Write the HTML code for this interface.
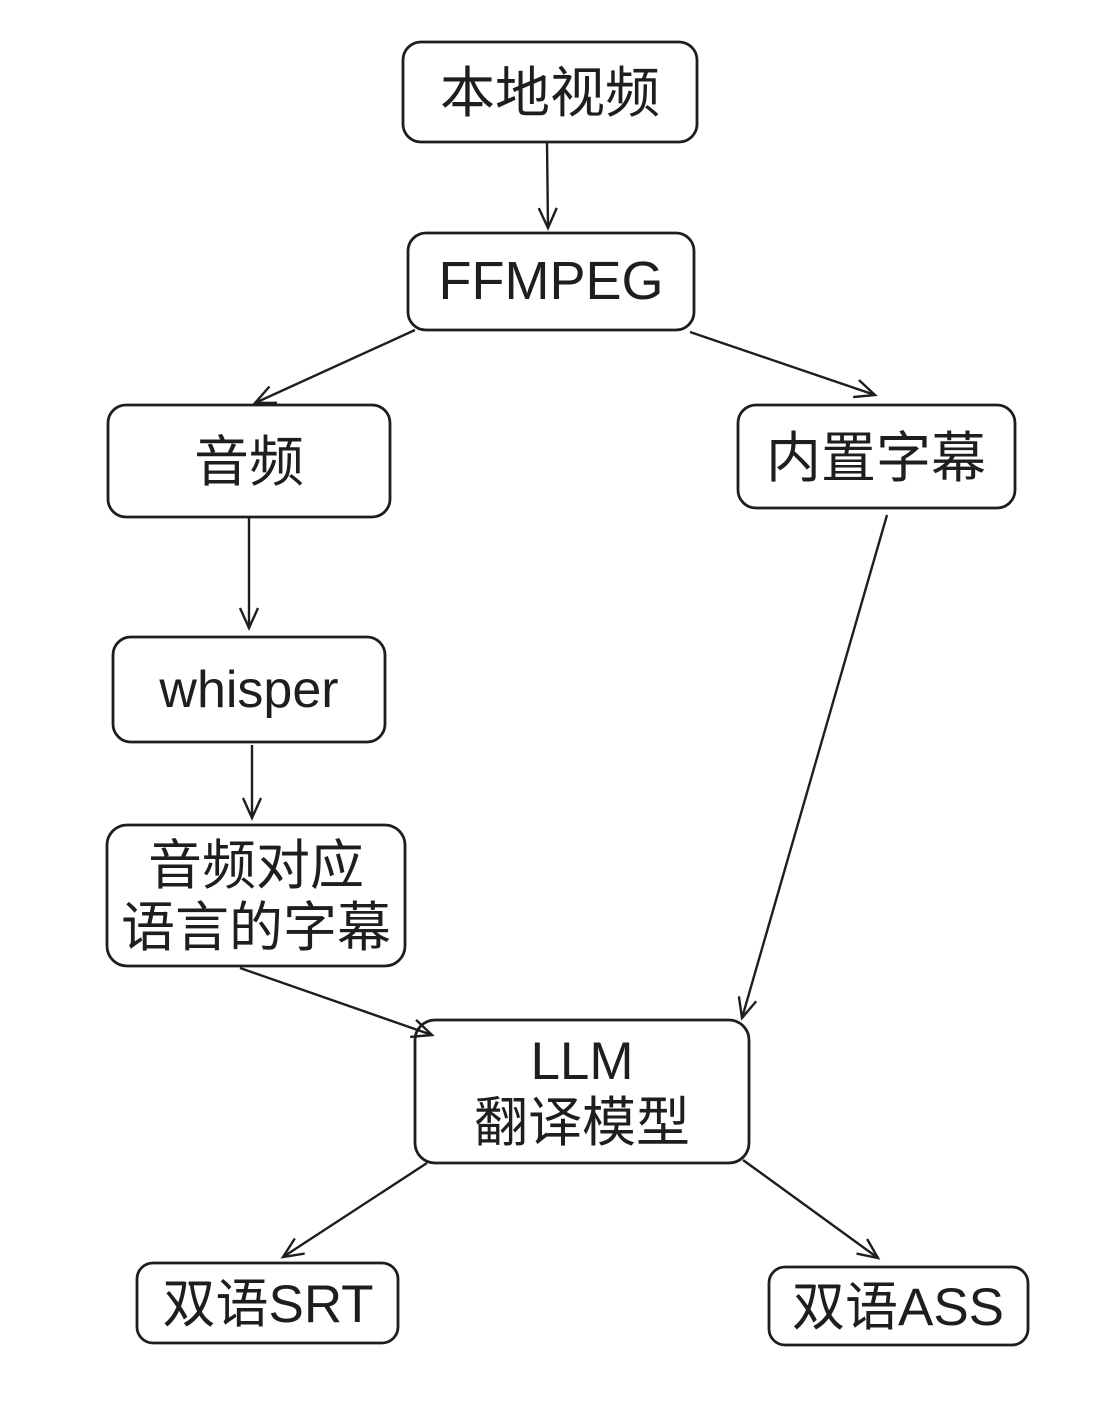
<!DOCTYPE html>
<html><head><meta charset="utf-8"><style>
body{margin:0;background:#fff;}
svg{display:block}
text{font-family:"Liberation Sans","Noto Sans CJK SC",sans-serif;fill:#1e1e1e;text-anchor:middle;}
</style></head><body>
<svg width="1111" height="1427" viewBox="0 0 1111 1427">
<defs><marker id="a" markerWidth="30" markerHeight="30" refX="22" refY="10" orient="auto" markerUnits="userSpaceOnUse"><path d="M2,1 L22,10 L2,19" fill="none" stroke="#1e1e1e" stroke-width="2.4"/></marker></defs>
<g fill="none" stroke="#1e1e1e" stroke-width="2.8">
<rect x="403" y="42" width="294" height="100" rx="18"/>
<rect x="408" y="233" width="286" height="97" rx="18"/>
<rect x="108" y="405" width="282" height="112" rx="18"/>
<rect x="738" y="405" width="277" height="103" rx="18"/>
<rect x="113" y="637" width="272" height="105" rx="18"/>
<rect x="107" y="825" width="298" height="141" rx="20"/>
<rect x="415" y="1020" width="334" height="143" rx="20"/>
<rect x="137" y="1263" width="261" height="80" rx="16"/>
<rect x="769" y="1267" width="259" height="78" rx="16"/>
</g>
<g fill="none" stroke="#1e1e1e" stroke-width="2.4" marker-end="url(#a)">
<line x1="547" y1="142" x2="548" y2="228"/>
<line x1="415" y1="330" x2="255" y2="403"/>
<line x1="690" y1="332" x2="875" y2="395"/>
<line x1="249" y1="517" x2="249" y2="628"/>
<line x1="252" y1="745" x2="252" y2="818"/>
<line x1="240" y1="968" x2="432" y2="1035"/>
<line x1="887" y1="515" x2="742" y2="1018"/>
<line x1="427" y1="1163" x2="283" y2="1257"/>
<line x1="743" y1="1160" x2="878" y2="1258"/>
</g>
<text x="550" y="112" font-size="55">本地视频</text>
<text x="551" y="299" font-size="54">FFMPEG</text>
<text x="249" y="481" font-size="55">音频</text>
<text x="876" y="477" font-size="55">内置字幕</text>
<text x="249" y="707" font-size="52">whisper</text>
<text x="256" y="884" font-size="54">音频对应</text>
<text x="256" y="946" font-size="54">语言的字幕</text>
<text x="582" y="1079" font-size="53">LLM</text>
<text x="582" y="1141" font-size="54">翻译模型</text>
<text x="268" y="1322" font-size="53">双语SRT</text>
<text x="898" y="1325" font-size="53">双语ASS</text>
</svg>
</body></html>
